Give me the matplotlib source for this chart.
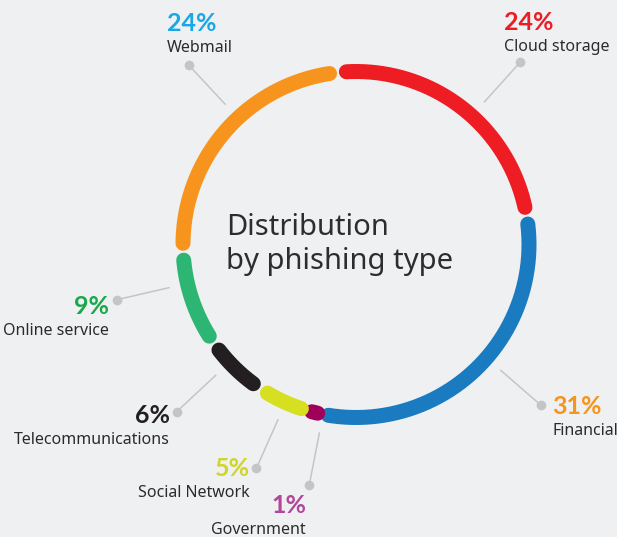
import numpy as np
import matplotlib.pyplot as plt

# data, clockwise from the top
categories = ["Cloud storage", "Financial", "Government", "Social Network",
              "Telecommunications", "Online service", "Webmail"]
shares = [24, 31, 1, 5, 6, 9, 24]
ring_colors = ["#ee1d23", "#1a7bc0", "#a0005a", "#d6e021",
               "#231f20", "#2db673", "#f7941d"]
pct_colors = ["#ed1c24", "#f7941d", "#b1479a", "#cfd52a",
              "#231f20", "#1aa84b", "#1aa7e8"]

# layout (pixels)
W, H = 617, 537
cx, cy, r = 356, 244.5, 173
start = 96          # degrees, boundary between Webmail and Cloud storage
gap = 2.8           # degrees trimmed at each end
leader_ang = [48, -41, -101, -114, -137, -167, 133]
# label anchor (x, baseline of percent), horizontal alignment
label_pos = [(504, 30, "left"), (552, 414, "left"), (306, 513, "right"),
             (250, 476, "right"), (170, 423, "right"), (109, 314, "right"),
             (167, 31, "left")]

bg = "#eff0f2"
plt.rcParams['font.family'] = ['Noto Sans', 'DejaVu Sans']

fig = plt.figure(figsize=(W / 100, H / 100), dpi=100, facecolor=bg)
ax = fig.add_axes([0, 0, 1, 1])
ax.set_facecolor(bg)
ax.set_xlim(0, W)
ax.set_ylim(H, 0)
ax.axis("off")

a0 = start
for val, col in zip(shares, ring_colors):
    a1 = a0 - val * 3.6
    s, e = a0 - gap, a1 + gap
    if s - e < 2:
        m = (a0 + a1) / 2
        s, e = m + 1, m - 1
    t = np.radians(np.linspace(s, e, 200))
    ax.plot(cx + r * np.cos(t), cy - r * np.sin(t), color=col, lw=10.8,
            solid_capstyle="round")
    a0 = a1

for name, val, col, ang, (lx, ly, ha) in zip(categories, shares, pct_colors,
                                             leader_ang, label_pos):
    t = np.radians(ang)
    x1, y1 = cx + 192 * np.cos(t), cy - 192 * np.sin(t)
    x2, y2 = cx + 245 * np.cos(t), cy - 245 * np.sin(t)
    ax.plot([x1, x2], [y1, y2], color="#c4c5c8", lw=1.1)
    ax.plot(x2, y2, "o", color="#c4c5c8", ms=7, mec="none")
    ax.text(lx, ly, f"{val}%", color=col, fontsize=18, fontweight="bold",
            fontstyle="normal", family=["Lato", "DejaVu Sans"],
            ha=ha, va="baseline")
    ax.text(lx, ly + 21, name, color="#2b2b2b", fontsize=11.5,
            ha=ha, va="baseline")

ax.text(226, 235, "Distribution", color="#2d2d2d",
        fontsize=21, ha="left", va="baseline")
ax.text(226, 269, "by phishing type", color="#2d2d2d",
        fontsize=21, ha="left", va="baseline")

fig.savefig("out.png", dpi=100, facecolor=bg)
